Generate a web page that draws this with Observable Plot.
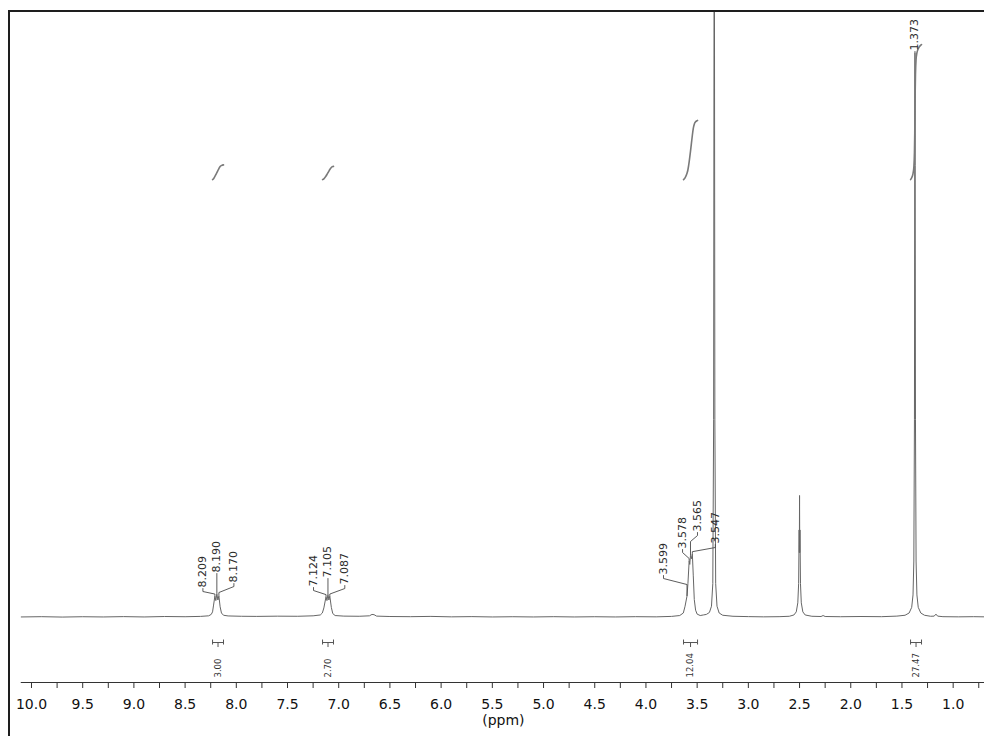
<!DOCTYPE html>
<html>
<head>
<meta charset="utf-8">
<script src="https://cdn.jsdelivr.net/npm/d3@7"></script>
<script src="https://cdn.jsdelivr.net/npm/@observablehq/plot@0.6"></script>
<style>
  html, body { margin: 0; padding: 0; background: #fff; }
  #wrap { position: relative; width: 984px; height: 736px; overflow: hidden; }
  #chart svg { display: block; }
  #border { position: absolute; left: 8px; top: 10px; right: -6px; bottom: -6px;
            border-left: 2px solid #1e1e1e; border-top: 2px solid #1e1e1e; pointer-events: none; }
</style>
</head>
<body>
<div id="wrap"><div id="chart"></div><div id="border"></div></div>
<script>
// 1H NMR trace: chemical shift (ppm) and intensity (relative, tallest solute peak = 100)
const shiftPpm = [
  10.10, 9.90, 9.70, 9.50, 9.30, 9.10, 8.90, 8.70, 8.50, 8.35, 8.27, 8.245,
  8.232, 8.222, 8.209, 8.200, 8.190, 8.180, 8.170, 8.158, 8.145, 8.125, 8.08,
  7.95, 7.80, 7.60, 7.40, 7.25, 7.18, 7.16, 7.145, 7.124, 7.115, 7.105, 7.096,
  7.087, 7.072, 7.058, 7.035, 6.95, 6.80, 6.70, 6.675, 6.655, 6.63, 6.50, 6.30,
  6.10, 5.90, 5.70, 5.50, 5.30, 5.10, 4.90, 4.70, 4.50, 4.30, 4.10, 3.90, 3.75,
  3.67, 3.635, 3.618, 3.599, 3.590, 3.578, 3.572, 3.565, 3.556, 3.547, 3.538,
  3.528, 3.515, 3.50, 3.47, 3.44, 3.41, 3.38, 3.36, 3.347, 3.339, 3.333, 3.327,
  3.319, 3.306, 3.285, 3.25, 3.15, 3.00, 2.85, 2.70, 2.60, 2.555, 2.532, 2.517,
  2.509, 2.504, 2.502, 2.500, 2.498, 2.496, 2.491, 2.483, 2.468, 2.445, 2.38,
  2.29, 2.27, 2.25, 2.10, 1.90, 1.70, 1.55, 1.47, 1.43, 1.405, 1.392, 1.384,
  1.378, 1.375, 1.373, 1.371, 1.368, 1.362, 1.354, 1.341, 1.316, 1.28, 1.22,
  1.185, 1.168, 1.152, 1.10, 0.95, 0.80, 0.69
];
const intensity = [
  0.10, 0.15, 0.08, 0.14, 0.10, 0.16, 0.10, 0.18, 0.14, 0.20, 0.30, 0.55,
  1.0, 2.2, 3.8, 3.0, 4.2, 3.1, 3.8, 1.9, 0.8, 0.4, 0.28,
  0.22, 0.20, 0.24, 0.22, 0.30, 0.45, 0.8, 1.7, 3.7, 3.0, 4.1, 3.1,
  3.8, 1.8, 0.7, 0.35, 0.25, 0.22, 0.30, 0.55, 0.50, 0.25, 0.18, 0.15,
  0.20, 0.12, 0.16, 0.10, 0.14, 0.10, 0.15, 0.10, 0.14, 0.10, 0.15, 0.12, 0.20,
  0.35, 0.8, 2.0, 3.8, 6.0, 10.0, 9.4, 11.0, 10.4, 11.3, 7.5,
  3.2, 1.3, 0.6, 0.35, 0.45, 0.55, 0.9, 2.0, 6.0, 35, 150, 35,
  6.0, 2.0, 0.8, 0.4, 0.22, 0.16, 0.12, 0.15, 0.22, 0.45, 1.0, 2.6,
  6.0, 15.5, 11.5, 21.6, 11.5, 15.5, 6.0, 2.6, 1.0, 0.45, 0.22,
  0.18, 0.35, 0.18, 0.14, 0.18, 0.15, 0.25, 0.4, 0.8, 1.8, 4.0, 10,
  35, 80, 100, 80, 35, 10, 4.0, 1.8, 0.8, 0.4, 0.22,
  0.25, 0.6, 0.25, 0.15, 0.12, 0.15, 0.12
];

// Picked peaks
const peakShifts = [8.209, 8.190, 8.170, 7.124, 7.105, 7.087, 3.599, 3.578, 3.565, 3.547, 1.373];

// Integrated regions (ppm) and their integrals
const integralFrom = [8.232, 7.158, 3.633, 1.416];
const integralTo = [8.125, 7.051, 3.496, 1.309];
const integralValues = [3.00, 2.70, 12.04, 27.47];

// Axis ticks (ppm)
const majorTicks = [10.0, 9.5, 9.0, 8.5, 8.0, 7.5, 7.0, 6.5, 6.0, 5.5, 5.0, 4.5, 4.0, 3.5, 3.0, 2.5, 2.0, 1.5, 1.0];
const minorTicks = [9.75, 9.25, 8.75, 8.25, 7.75, 7.25, 6.75, 6.25, 5.75, 5.25, 4.75, 4.25, 3.75, 3.25, 2.75, 2.25, 1.75, 1.25, 0.75];
const axisTitle = "(ppm)";

// ---- layout ----
const W = 984, H = 736, ML = 10, MR = 0, MT = 12, MB = 54;
const X_DOMAIN = [10.205, 0.694];
const Y_DOMAIN = [-11.5, 107.08];
const pxPerPpm = (W - ML - MR) / (X_DOMAIN[0] - X_DOMAIN[1]);
const pxPerUnit = (H - MT - MB) / (Y_DOMAIN[1] - Y_DOMAIN[0]);
const u = px => px / pxPerUnit;   // vertical pixels -> intensity units
const p = px => px / pxPerPpm;    // horizontal pixels -> ppm

// peak label placement: horizontal shift from the peak and lift above the baseline (px)
const labelDx = [-12, 0, 15, -12.5, 0, 15, -23.5, -6.6, 7, 23, 0];
const labelLift = [30, 45, 35, 31, 40, 33, 43, 69, 86, 74, 567];

// integral curves: baseline level and vertical scale (intensity units per integral unit)
const INTEGRAL_BASE = 77.5;
const INTEGRAL_SCALE = 0.87;
const BRACKET_Y = -u(25);
const INTEGRAL_TEXT_Y = -u(60);

// ---- derived tables ----
const trace = shiftPpm.map((ppm, i) => ({ppm, value: intensity[i]}));

// linear interpolation of the trace at a given shift
function valueAt(ppm) {
  for (let i = 0; i < shiftPpm.length - 1; i++) {
    const a = shiftPpm[i], b = shiftPpm[i + 1];
    if (ppm <= a && ppm >= b) return intensity[i] + (intensity[i + 1] - intensity[i]) * (a - ppm) / (a - b);
  }
  return 0;
}

const leaders = [];
const peakLabels = peakShifts.map((s, i) => {
  const top = intensity[shiftPpm.indexOf(s)];
  const lx = s - p(labelDx[i]);
  const ly = u(labelLift[i]);
  const pts = [[lx, ly - u(1)]];
  if (labelDx[i] !== 0) {
    pts.push([lx, ly - u(4)]);
    pts.push([s, Math.max(ly - u(10), top + u(2))]);
  }
  pts.push([s, top + u(0.5)]);
  pts.forEach(([x, y]) => leaders.push({id: i, x, y}));
  return {x: lx, y: ly, text: s.toFixed(3)};
});

const integrals = integralValues.map((v, i) => ({
  from: integralFrom[i], to: integralTo[i],
  mid: (integralFrom[i] + integralTo[i]) / 2,
  value: v
}));

// running (cumulative) area of the trace across each region, scaled to the integral value
const integralCurves = integrals.flatMap((d, i) => {
  const xs = [d.from, ...shiftPpm.filter(s => s < d.from && s > d.to), d.to];
  const ys = xs.map(valueAt);
  const cum = [0];
  for (let k = 1; k < xs.length; k++) cum.push(cum[k - 1] + (xs[k - 1] - xs[k]) * (ys[k - 1] + ys[k]) / 2);
  const total = cum[cum.length - 1];
  return xs.map((x, k) => ({id: i, x, y: INTEGRAL_BASE + d.value * INTEGRAL_SCALE * cum[k] / total}));
});

const axisColor = "#333";
const chart = Plot.plot({
  width: W, height: H,
  marginLeft: ML, marginRight: MR, marginTop: MT, marginBottom: MB,
  x: {domain: X_DOMAIN, axis: null},
  y: {domain: Y_DOMAIN, axis: null},
  style: {fontFamily: "'DejaVu Sans', Verdana, sans-serif", background: "#fff", color: "#222"},
  marks: [
    // spectrum
    Plot.line(trace, {x: "ppm", y: "value", stroke: "#666", strokeWidth: 1, clip: true}),
    // integral curves
    Plot.line(integralCurves, {x: "x", y: "y", z: "id", curve: "monotone-x", stroke: "#7a7a7a", strokeWidth: 1.6}),
    // peak picks
    Plot.line(leaders, {x: "x", y: "y", z: "id", stroke: "#4a4a4a", strokeWidth: 0.9}),
    Plot.text(peakLabels, {x: "x", y: "y", text: "text", rotate: -90, textAnchor: "start", lineAnchor: "middle", fontSize: 11, fill: "#2b2b2b"}),
    // integral brackets and values
    Plot.ruleY(integrals, {x1: "from", x2: "to", y: () => BRACKET_Y, stroke: "#555", strokeWidth: 1}),
    Plot.ruleX(integrals, {x: "from", y1: BRACKET_Y - u(2.5), y2: BRACKET_Y + u(2.5), stroke: "#555", strokeWidth: 1}),
    Plot.ruleX(integrals, {x: "to", y1: BRACKET_Y - u(2.5), y2: BRACKET_Y + u(2.5), stroke: "#555", strokeWidth: 1}),
    Plot.ruleX(integrals, {x: "mid", y1: BRACKET_Y, y2: BRACKET_Y - u(5), stroke: "#555", strokeWidth: 1}),
    Plot.text(integrals, {x: "mid", y: () => INTEGRAL_TEXT_Y, text: d => d.value.toFixed(2), rotate: -90, textAnchor: "start", lineAnchor: "middle", fontSize: 8.5, fill: "#333"}),
    // ppm axis
    Plot.ruleY([Y_DOMAIN[0]], {x1: shiftPpm[0], x2: X_DOMAIN[1], stroke: axisColor, strokeWidth: 1}),
    Plot.ruleX([...majorTicks, ...minorTicks], {x: d => d, y1: Y_DOMAIN[0], y2: Y_DOMAIN[0] - u(6), stroke: axisColor, strokeWidth: 1}),
    Plot.text(majorTicks, {x: d => d, y: () => Y_DOMAIN[0], dy: 17, lineAnchor: "top", text: d => d.toFixed(1), fontSize: 14, fill: "#111"}),
    Plot.text([axisTitle], {x: () => 5.392, y: () => Y_DOMAIN[0], dy: 33, lineAnchor: "top", text: d => d, fontSize: 14, fill: "#111"})
  ]
});
document.getElementById("chart").appendChild(chart);
</script>
</body>
</html>
